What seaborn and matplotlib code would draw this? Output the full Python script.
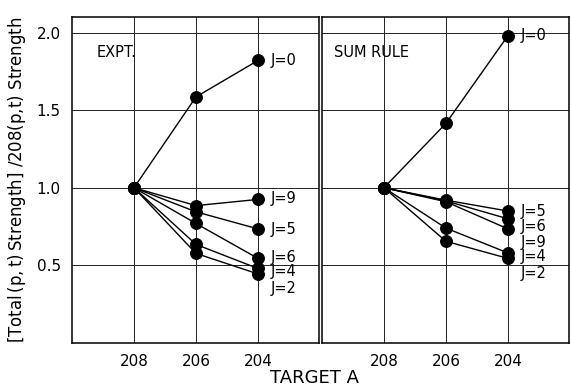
import matplotlib
matplotlib.use("Agg")
import matplotlib.pyplot as plt
import pandas as pd
import seaborn as sns

# target mass numbers
targets = [208, 206, 204]

# experimental ratios, one list per J (at A = 208, 206, 204)
expt_ratios = {
    "0": [1.0, 1.585, 1.82],
    "9": [1.0, 0.885, 0.925],
    "5": [1.0, 0.845, 0.735],
    "6": [1.0, 0.77, 0.545],
    "4": [1.0, 0.635, 0.48],
    "2": [1.0, 0.577, 0.445],
}

# sum rule ratios
sum_ratios = {
    "0": [1.0, 1.415, 1.98],
    "5": [1.0, 0.92, 0.85],
    "6": [1.0, 0.915, 0.80],
    "9": [1.0, 0.91, 0.735],
    "4": [1.0, 0.74, 0.58],
    "2": [1.0, 0.655, 0.545],
}

# where the J labels sit (y in data units, beside A = 204)
expt_label_y = {"0": 1.82, "9": 0.93, "5": 0.73, "6": 0.55, "4": 0.46, "2": 0.35}
sum_label_y = {"0": 1.98, "5": 0.85, "6": 0.75, "9": 0.65, "4": 0.56, "2": 0.45}


def to_frame(ratios):
    rows = []
    for j, vals in ratios.items():
        for a, v in zip(targets, vals):
            rows.append({"A": a, "ratio": v, "J": j})
    return pd.DataFrame(rows)


sns.set_style("white")
plt.rcParams["font.family"] = ["DejaVu Sans"]
plt.rcParams["mathtext.fontset"] = "dejavusans"
for key in ["text.color", "axes.labelcolor", "xtick.color", "ytick.color"]:
    plt.rcParams[key] = "black"

fig = plt.figure(figsize=(5.71, 3.89), dpi=100)
ax1 = fig.add_axes([72 / 571, 1 - 343 / 389, 247 / 571, 326 / 389])
ax2 = fig.add_axes([322 / 571, 1 - 343 / 389, 247 / 571, 326 / 389])


def draw_panel(ax, ratios, label_y, title, title_x):
    df = to_frame(ratios)
    sns.lineplot(data=df, x="A", y="ratio", units="J", estimator=None,
                 color="black", lw=1.0, marker="o", markersize=8.5,
                 markeredgecolor="black", markerfacecolor="black", ax=ax,
                 zorder=3)
    for j, y in label_y.items():
        ax.text(203.6, y, f"J={j}", fontsize=10.5, va="center", ha="left")
    ax.text(title_x, 1.87, title, fontsize=10.5, va="center", ha="left")
    ax.set_xlim(210, 202.03)
    ax.set_ylim(0, 2.1)
    ax.set_xticks(targets)
    ax.set_xticklabels([str(t) for t in targets], fontsize=11)
    ax.set_yticks([0.5, 1.0, 1.5, 2.0])
    ax.grid(True, color="#222222", lw=0.7)
    ax.tick_params(length=0, pad=8)
    for s in ax.spines.values():
        s.set_color("black")
        s.set_linewidth(1.1)
    ax.set_xlabel("")
    ax.set_ylabel("")


draw_panel(ax1, expt_ratios, expt_label_y, "EXPT.", 209.2)
draw_panel(ax2, sum_ratios, sum_label_y, "SUM RULE", 209.6)

ax1.set_yticklabels(["0.5", "1.0", "1.5", "2.0"], fontsize=11)
ax2.set_yticklabels([])

ax1.set_ylabel(r"$\left[\mathrm{Total\,(p,t)\,Strength}\right]$ /208(p,t) Strength",
               fontsize=12, labelpad=6)
fig.text(315 / 571, 1 - 378 / 389, "TARGET A", fontsize=13, ha="center", va="center")

fig.savefig("out.png", dpi=100)
